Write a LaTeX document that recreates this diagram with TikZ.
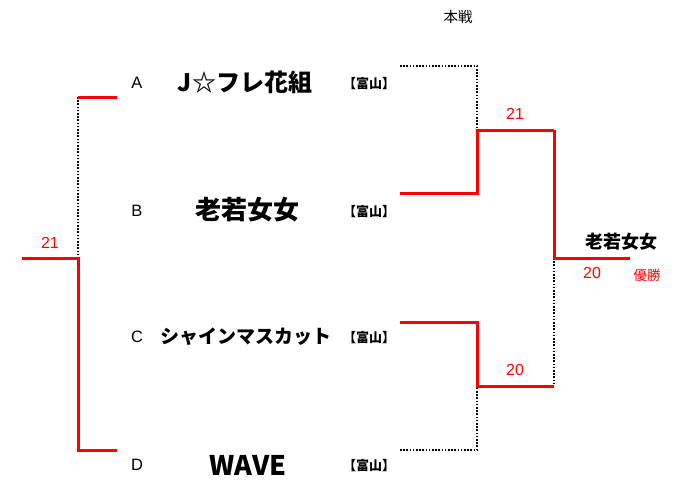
\documentclass[tikz,border=0pt]{standalone}
\usepackage{fontspec}
\setmainfont{Liberation Sans}
\newfontfamily\jp{Noto Sans CJK JP}
\usetikzlibrary{positioning}

\begin{document}
\begin{tikzpicture}[x=1pt,y=-1pt,
  win/.style={draw=red,line width=3pt},
  lose/.style={draw=black,line width=1.6pt,dash pattern=on 1.6pt off 1.6pt},
  score/.style={text=red,font=\fontsize{16}{16}\selectfont},
  seed/.style={font=\fontsize{16.5}{16.5}\selectfont},
  team/.style={font=\jp\bfseries\fontsize{#1}{#1}\selectfont},
  pref/.style={font=\jp\bfseries\fontsize{13}{13}\selectfont}]
 \useasboundingbox (0,0) rectangle (679,479);

 \node (title) at(458,17) {\jp\fontsize{14.5}{14.5}\selectfont 本戦};

 \node[seed] (sA) at(137,83) {A};
 \node[seed] (sB) at(137,211) {B};
 \node[seed] (sC) at(137,337) {C};
 \node[seed] (sD) at(137,465) {D};

 \node[team=24] (tA) at(245,82) {J☆フレ花組};
 \node[team=26] (tB) at(247,210) {老若女女};
 \node[team=19] (tC) at(246,337) {シャインマスカット};
 \node[team=27] (tD) at(248,465) {WAVE};

 \node[pref] (pA) at(369,84) {【富山】};
 \node[pref] (pB) at(369,212) {【富山】};
 \node[pref] (pC) at(369,338) {【富山】};
 \node[pref] (pD) at(369,466) {【富山】};

 % left match A-D
 \coordinate (A1) at(117,97);
 \coordinate (A2) at(78,97);
 \coordinate (AD) at(78,258);
 \coordinate (AD0) at(22,258);
 \coordinate (D2) at(78,450);
 \coordinate (D1) at(117,450);
 \draw[lose] (A2) -- (AD);
 \draw[win] (A1) -- (A2);
 \draw[win] (AD0) -- (AD) -- (D2) -- (D1);
 \node[score] (sc1) at(50,243) {21};

 % right match A-B
 \coordinate (RA1) at(400,66);
 \coordinate (RA2) at(477,66);
 \coordinate (RAB) at(477,130);
 \coordinate (RB1) at(400,193);
 \coordinate (RB2) at(477,193);
 \coordinate (RAB0) at(554,130);
 \draw[lose] (RA1) -- (RA2) -- (RAB);
 \draw[win] (RB1) -- (RB2) -- (RAB) -- (RAB0);
 \node[score] (sc2) at(515,114) {21};

 % right match C-D
 \coordinate (RC1) at(400,322);
 \coordinate (RC2) at(477,322);
 \coordinate (RCD) at(477,386);
 \coordinate (RD1) at(400,450);
 \coordinate (RD2) at(477,450);
 \coordinate (RCD0) at(554,386);
 \draw[lose] (RD1) -- (RD2) -- (RCD);
 \draw[win] (RC1) -- (RC2) -- (RCD) -- (RCD0);
 \node[score] (sc3) at(515,370) {20};

 % final
 \coordinate (F) at(554,258);
 \coordinate (F0) at(630,258);
 \draw[lose] (F) -- (RCD0);
 \draw[win] (RAB0) -- (F) -- (F0);
 \node[team=18] (champ) at(621,242) {老若女女};
 \node[score] (sc4) at(592,273) {20};
 \node[text=red,font=\jp\fontsize{13.5}{13.5}\selectfont] (yusho) at(647,275) {優勝};

\end{tikzpicture}
\end{document}
